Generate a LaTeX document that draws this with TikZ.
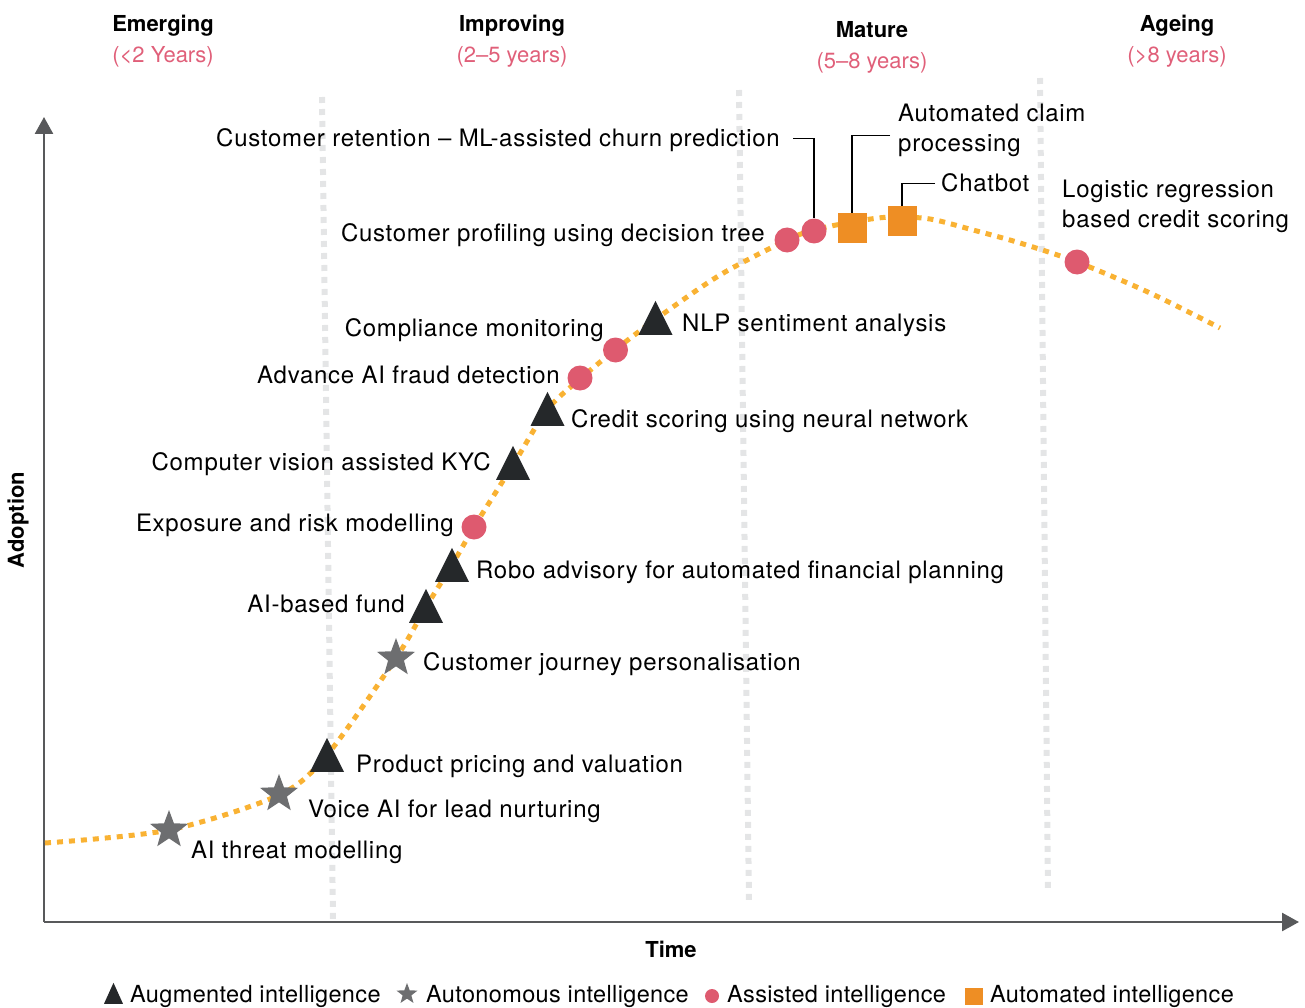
\documentclass[tikz,border=0pt]{standalone}
\usepackage{fontspec}
\setmainfont{TeX Gyre Heros}
\usetikzlibrary{shapes.geometric,arrows.meta,positioning}
\definecolor{curveOrange}{HTML}{F9B233}
\definecolor{assistPink}{HTML}{DE5A6F}
\definecolor{autoOrange}{HTML}{EE8E24}
\definecolor{augDark}{HTML}{25282A}
\definecolor{autonGrey}{HTML}{6D6E70}
\definecolor{axisGrey}{HTML}{58595B}
\definecolor{phaseGrey}{HTML}{E4E5E6}
\definecolor{yearPink}{HTML}{E05F79}
\tikzset{%
  itemLabel/.style={font=\fontsize{24}{30}\selectfont\addfontfeature{LetterSpace=3}, inner sep=0pt, align=left},%
  keyLabel/.style={font=\fontsize{23.5}{30}\selectfont\addfontfeature{LetterSpace=1.5}, inner sep=0pt},%
  phaseTitle/.style={font=\fontsize{22}{26}\selectfont\bfseries, inner sep=0pt},%
  phaseYears/.style={font=\fontsize{22}{26}\selectfont, text=yearPink, inner sep=0pt},%
  augmented/.style={isosceles triangle, isosceles triangle stretches, shape border rotate=90,%
    minimum width=34pt, minimum height=34pt, inner sep=0pt, fill=augDark, anchor=south},%
  autonomous/.style={star, star points=5, star point ratio=2.4, minimum size=40pt,%
    inner sep=0pt, fill=autonGrey},%
  assisted/.style={circle, minimum size=25pt, inner sep=0pt, fill=assistPink},%
  automated/.style={rectangle, minimum width=29pt, minimum height=30pt, inner sep=0pt, fill=autoOrange},%
  leader/.style={draw=black, line width=1.1pt},%
  phaseLine/.style={draw=phaseGrey, line width=6pt, dash pattern=on 6pt off 6pt},%
  axisLine/.style={draw=axisGrey, line width=2.6pt, -{Triangle[length=17pt,width=18pt]}},%
  trend/.style={draw=curveOrange, line width=5pt, dash pattern=on 6pt off 6pt}%
}
\begin{document}
\begin{tikzpicture}[x=1pt,y=-1pt]
\useasboundingbox (0,0) rectangle (1305,1008);%
%
% phase borders
\draw[phaseLine] (322,97) -- (333,920);%
\draw[phaseLine] (739,90) -- (749,903);%
\draw[phaseLine] (1040,78) -- (1048,892);%
%
% axes
\coordinate (origin) at (44,922);%
\coordinate (yTip) at (44,117);%
\coordinate (xTip) at (1299,922);%
\draw[axisLine] (origin) -- (yTip);%
\draw[axisLine] (origin) -- (xTip);%
\node[phaseTitle, rotate=90] (adoption) at (18,520) {Adoption};%
\node[phaseTitle, anchor=base] (time) at (671,957) {Time};%
%
% phases
\node[phaseTitle, anchor=base] (emerging) at (163,32) {Emerging};%
\node[phaseYears, anchor=base] (emergingYears) at (163,63) {(<2 Years)};%
\node[phaseTitle, anchor=base] (improving) at (512,32) {Improving};%
\node[phaseYears, anchor=base] (improvingYears) at (512,63) {(2–5 years)};%
\node[phaseTitle, anchor=base] (mature) at (872,38) {Mature};%
\node[phaseYears, anchor=base] (matureYears) at (872,69) {(5–8 years)};%
\node[phaseTitle, anchor=base] (ageing) at (1177,32) {Ageing};%
\node[phaseYears, anchor=base] (ageingYears) at (1177,63) {(>8 years)};%
%
% adoption curve
\draw[trend] plot[smooth, tension=0.5] coordinates {(45,843) (169,830) (279,795) (327,755)
  (396,658) (426,607) (452,565) (474,527) (513,465) (547,410) (580,379) (615,350) (656,319)
  (720,275) (787,240) (814,230) (852,222) (890,217) (930,219) (973,230) (1020,243) (1077,262)
  (1150,293) (1220,328)};%
%
% markers
\node[autonomous] (threat) at (169,830) {};%
\node[autonomous] (voice) at (279,794) {};%
\node[autonomous] (journey) at (396,658) {};%
\node[augmented] (pricing) at (327,772) {};%
\node[augmented] (fund) at (426,623) {};%
\node[augmented] (robo) at (452,582) {};%
\node[augmented] (kyc) at (513,480) {};%
\node[augmented] (neural) at (547.5,426) {};%
\node[augmented] (nlp) at (655.5,335) {};%
\node[assisted] (exposure) at (474,527) {};%
\node[assisted] (fraud) at (580,378) {};%
\node[assisted] (compliance) at (615.5,350) {};%
\node[assisted] (profiling) at (787,240) {};%
\node[assisted] (retention) at (814,231) {};%
\node[assisted] (logistic) at (1077,262) {};%
\node[automated] (claim) at (852,228) {};%
\node[automated] (chatbot) at (902,221) {};%
%
% labels
\node[itemLabel, anchor=base west] (threatText) at (191,858) {AI threat modelling};%
\node[itemLabel, anchor=base west] (voiceText) at (308,817) {Voice AI for lead nurturing};%
\node[itemLabel, anchor=base west] (pricingText) at (356,772) {Product pricing and valuation};%
\node[itemLabel, anchor=base west] (journeyText) at (423,670) {Customer journey personalisation};%
\node[itemLabel, anchor=base east] (fundText) at (405,612) {AI-based fund};%
\node[itemLabel, anchor=base west] (roboText) at (476,578) {Robo advisory for automated financial planning};%
\node[itemLabel, anchor=base east] (exposureText) at (454,531) {Exposure and risk modelling};%
\node[itemLabel, anchor=base east] (kycText) at (491,470) {Computer vision assisted KYC};%
\node[itemLabel, anchor=base west] (neuralText) at (571,427) {Credit scoring using neural network};%
\node[itemLabel, anchor=base east] (fraudText) at (560,383) {Advance AI fraud detection};%
\node[itemLabel, anchor=base east] (complianceText) at (604,336) {Compliance monitoring};%
\node[itemLabel, anchor=base west] (nlpText) at (682,331) {NLP sentiment analysis};%
\node[itemLabel, anchor=base east] (profilingText) at (765,241) {Customer profiling using decision tree};%
\node[itemLabel, anchor=base east] (retentionText) at (780,147) {Customer retention – ML-assisted churn prediction};%
\node[itemLabel, anchor=base west] (claimText) at (898,152) {Automated claim\\processing};%
\node[itemLabel, anchor=base west] (chatbotText) at (941,192) {Chatbot};%
\node[itemLabel, anchor=base west] (logisticText) at (1062,228) {Logistic regression\\based credit scoring};%
%
% leaders
\draw[leader] (retentionText.east) ++(13,-2) -| (retention.north);%
\draw[leader] (claimText.west) ++(-8,5) -| (claim.north);%
\draw[leader] (chatbotText.west) ++(-6,0) -| (chatbot.north);%
%
% legend
\node[augmented, minimum width=19pt, minimum height=21pt] (augKey) at (113.5,1004) {};%
\node[keyLabel, anchor=base west] (augText) at (130,1002) {Augmented intelligence};%
\node[autonomous, minimum size=22pt] (autonKey) at (407,994) {};%
\node[keyLabel, anchor=base west] (autonText) at (426,1002) {Autonomous intelligence};%
\node[assisted, minimum size=14pt] (assistKey) at (712,996) {};%
\node[keyLabel, anchor=base west] (assistText) at (727,1002) {Assisted intelligence};%
\node[automated, minimum width=18pt, minimum height=17pt] (autoKey) at (974,996) {};%
\node[keyLabel, anchor=base west] (autoText) at (990,1002) {Automated intelligence};%
\end{tikzpicture}
\end{document}
